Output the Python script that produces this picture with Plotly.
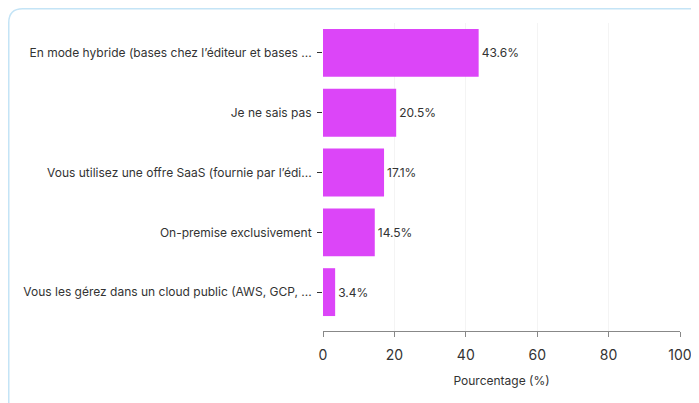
import plotly.graph_objects as go

categories = [
    "En mode hybride (bases chez l’éditeur et bases ...",
    "Je ne sais pas",
    "Vous utilisez une offre SaaS (fournie par l’édi...",
    "On-premise exclusivement",
    "Vous les gérez dans un cloud public (AWS, GCP, ...",
]
values = [43.6, 20.5, 17.1, 14.5, 3.4]
labels = ["43.6%", "20.5%", "17.1%", "14.5%", "3.4%"]
x_ticks = [0, 20, 40, 60, 80, 100]

# page body has an 8px margin, so the figure is offset by (8, 8)
OFF = 8
W, H = 699 - OFF, 403 - OFF
L, R, T, B = 323 - OFF, 19, 23 - OFF, 72
pw, ph = W - L - R, H - T - B

def px(x):
    return (x - OFF - L) / pw

def py(y):
    return (H - B - (y - OFF)) / ph

fig = go.Figure(go.Bar(
    x=values, y=categories, orientation="h",
    marker=dict(color="#dc45f8", line=dict(width=0)),
    width=0.8,
    text=labels, textposition="outside",
    textfont=dict(family="Inter", size=12, color="#333333"),
    cliponaxis=False,
))

# card border (rounded rectangle), coordinates in page pixels
x0, y0, x1, y1, r = 8.75, 8.75, 720, 430, 14
path = (f"M {px(x0)},{py(y0 + r)} Q {px(x0)},{py(y0)} {px(x0 + r)},{py(y0)} "
        f"L {px(x1)},{py(y0)} L {px(x1)},{py(y1)} L {px(x0)},{py(y1)} Z")
fig.add_shape(type="path", path=path, xref="paper", yref="paper",
              line=dict(color="#c4e4f6", width=1.5), layer="below")

fig.update_layout(
    width=W, height=H,
    margin=dict(l=L, r=R, t=T, b=B, autoexpand=False),
    paper_bgcolor="white", plot_bgcolor="white",
    font=dict(family="Inter", size=12, color="#333333"),
    showlegend=False,
    bargap=0.2,
    xaxis=dict(
        range=[0, 100], tickvals=x_ticks, ticktext=[str(v) for v in x_ticks],
        showgrid=True, gridcolor="#f4f4f4", gridwidth=1,
        zeroline=False, showline=True, linecolor="#888888", linewidth=1,
        ticks="outside", ticklen=5, tickcolor="#888888",
        ticklabelstandoff=6,
        tickfont=dict(family="Inter", size=14, color="#333333"),
        title=dict(text="Pourcentage (%)", font=dict(family="Inter", size=12, color="#333333"), standoff=14),
    ),
    yaxis=dict(
        categoryorder="array", categoryarray=categories,
        range=[4.65, -0.5],
        showgrid=False, zeroline=False, showline=False,
        ticks="outside", ticklen=5, tickcolor="#333333",
        ticklabelstandoff=3,
        tickfont=dict(family="Inter", size=12, color="#333333"),
    ),
)

fig.write_html("out.html")
